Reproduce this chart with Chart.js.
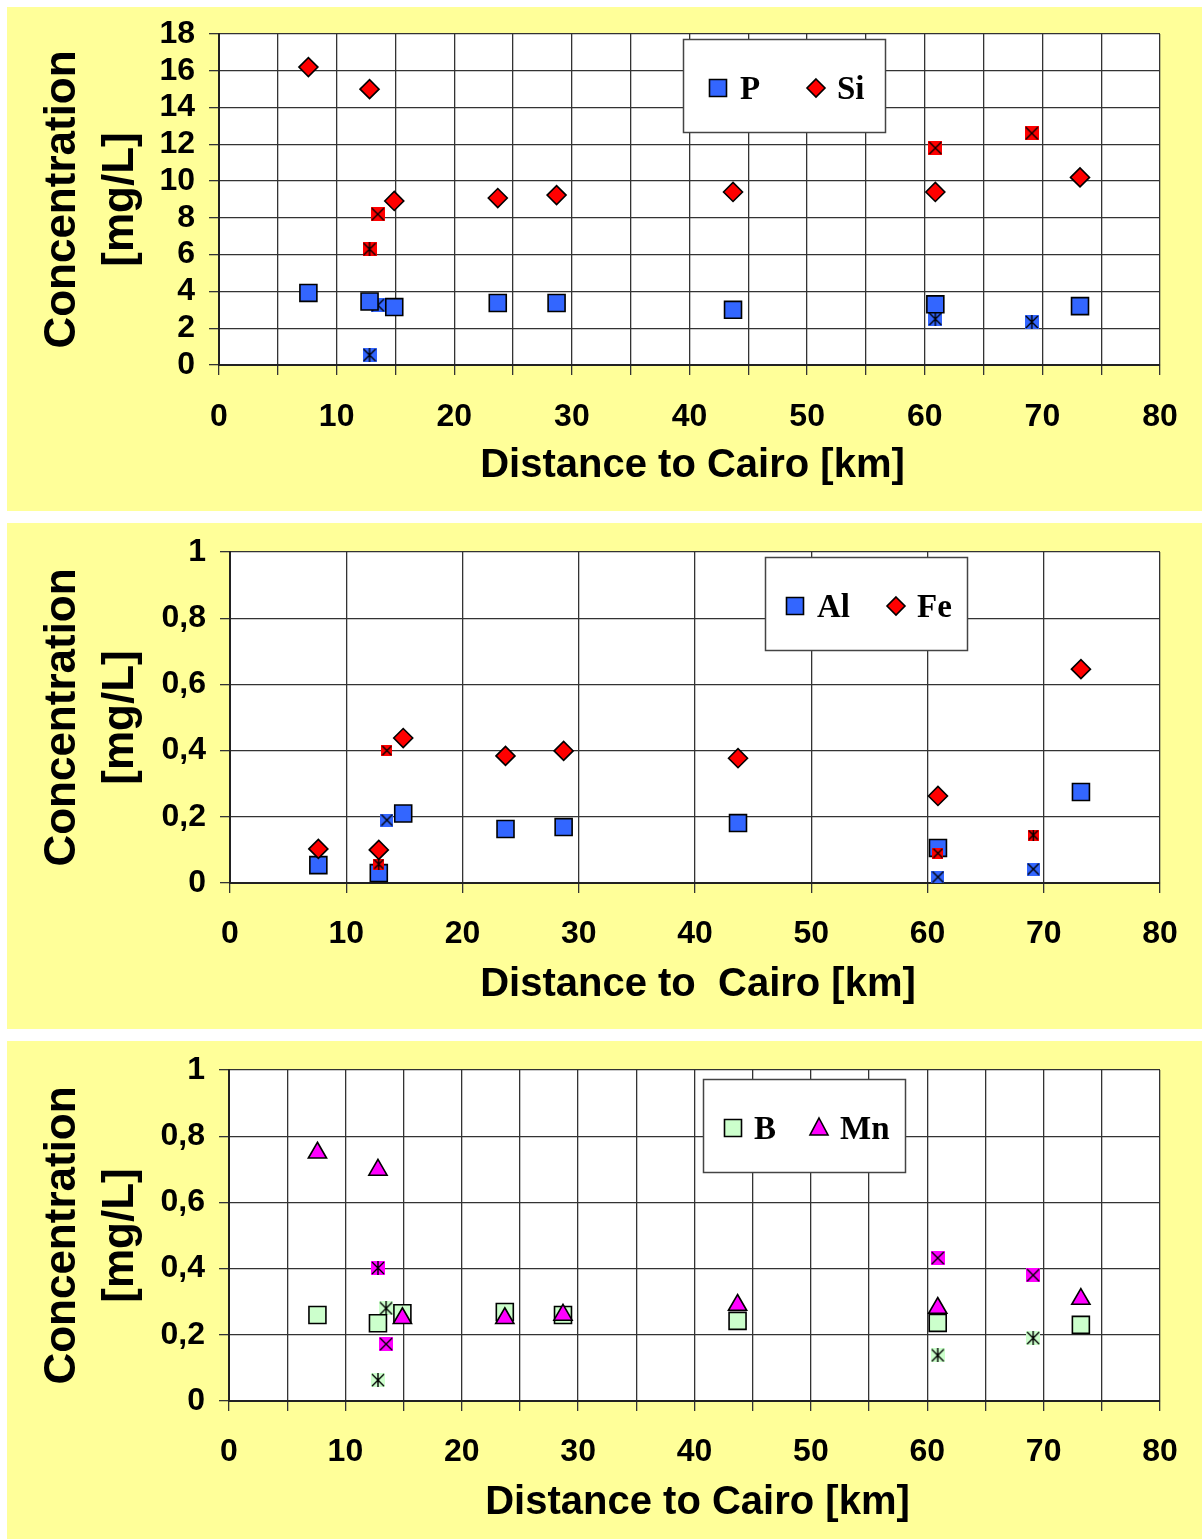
<!DOCTYPE html>
<html>
<head>
<meta charset="utf-8">
<script src="https://cdn.jsdelivr.net/npm/chart.js@4.4.1/dist/chart.umd.min.js"></script>
<style>
  html, body { margin: 0; padding: 0; background: #ffffff; }
  body { width: 1202px; height: 1539px; position: relative; overflow: hidden; }
  .panel { position: absolute; left: 7px; background: #FFFF99; }
  canvas { display: block; }
</style>
</head>
<body>
<div class="panel" style="top:7px;width:1195px;height:504px"><canvas id="c1" width="1195" height="504"></canvas></div>
<div class="panel" style="top:523px;width:1195px;height:506px"><canvas id="c2" width="1195" height="506"></canvas></div>
<div class="panel" style="top:1041px;width:1195px;height:498px"><canvas id="c3" width="1195" height="498"></canvas></div>
<script>
// ---------------- DATA ----------------
// distance to Cairo [km] of the main sampling points
const distanceKm = [7.6, 12.8, 14.9, 23.7, 28.7, 43.7, 60.9, 73.2];
// distance of the additional samples (cross / asterisk markers)
const extraDistanceKm = [12.8, 13.5, 60.9, 69.1];

// main series [mg/L]
const P  = [3.92, 3.45, 3.15, 3.37, 3.37, 3.0, 3.3, 3.2];
const Si = [16.2, 15.0, 8.92, 9.08, 9.24, 9.41, 9.41, 10.2];
const Al = [0.054, 0.03, 0.21, 0.163, 0.169, 0.181, 0.106, 0.275];
const Fe = [0.103, 0.1, 0.438, 0.384, 0.399, 0.377, 0.263, 0.646];
const B  = [0.26, 0.235, 0.265, 0.269, 0.26, 0.242, 0.236, 0.23];
const Mn = [0.75, 0.698, 0.25, 0.25, 0.26, 0.29, 0.281, 0.308];

// additional samples [mg/L]
const PExtra  = [0.54, 3.25, 2.5, 2.34];
const SiExtra = [6.3, 8.2, 11.8, 12.6];
const AlExtra = [null, 0.19, 0.018, 0.042];
const FeExtra = [0.057, 0.4, 0.09, 0.145];
const BExtra  = [0.063, 0.28, 0.138, 0.19];
const MnExtra = [0.402, 0.172, 0.432, 0.38];

// tick labels
const xTickLabels = ['0', '10', '20', '30', '40', '50', '60', '70', '80'];
const yTickLabels1 = ['0', '2', '4', '6', '8', '10', '12', '14', '16', '18'];
const yTickLabels23 = ['0', '0,2', '0,4', '0,6', '0,8', '1'];

// ---------------- STYLE ----------------
const BLUE = '#3366FF', RED = '#FF0000', GREEN = '#CCFFCC', MAGENTA = '#FF00FF';
const SANS = '"Liberation Sans", Arial, sans-serif';
const SERIF = '"Liberation Serif", "Times New Roman", serif';

function markerImage(fill, size, star) {
  const c = document.createElement('canvas');
  c.width = size; c.height = size;
  const g = c.getContext('2d');
  g.fillStyle = fill;
  g.fillRect(0, 0, size, size);
  g.strokeStyle = '#000';
  g.lineWidth = 1.4;
  g.beginPath();
  g.moveTo(1, 1); g.lineTo(size - 1, size - 1);
  g.moveTo(size - 1, 1); g.lineTo(1, size - 1);
  if (star) { g.moveTo(size / 2, 0); g.lineTo(size / 2, size); }
  g.stroke();
  return c;
}
// marker kind of each additional sample, per element ('x' cross or '*' asterisk)
const extraKinds = {
  P:  ['*', 'x', '*', '*'],
  Si: ['*', 'x', 'x', 'x'],
  Al: ['x', 'x', 'x', 'x'],
  Fe: ['*', 'x', 'x', '*'],
  B:  ['*', '*', '*', '*'],
  Mn: ['*', 'x', 'x', 'x']
};
function pts(xs, ys) {
  return xs.map((x, i) => ({ x: x, y: ys[i] })).filter(p => p.y !== null);
}
function extraDataset(name, ys, fill, size) {
  const kinds = extraKinds[name];
  const styles = [];
  const data = [];
  extraDistanceKm.forEach((x, i) => {
    if (ys[i] !== null) { data.push({ x: x, y: ys[i] }); styles.push(markerImage(fill, size, kinds[i] === '*')); }
  });
  return { label: name + ' extra', data: data, pointStyle: styles, pointRadius: size / 2, showLine: false };
}
function mainDataset(name, ys, fill, style, radius) {
  return {
    label: name, data: pts(distanceKm, ys), pointStyle: style, pointRadius: radius,
    backgroundColor: fill, pointBackgroundColor: fill, pointBorderColor: '#000', pointBorderWidth: 1.6,
    showLine: false
  };
}

const panelPlugin = {
  id: 'panelDecor',
  beforeDraw(chart, args, opts) {
    const a = chart.chartArea, ctx = chart.ctx;
    ctx.save();
    ctx.fillStyle = '#ffffff';
    ctx.fillRect(a.left, a.top, a.right - a.left, a.bottom - a.top);
    ctx.restore();
  },
  afterDraw(chart, args, opts) {
    const a = chart.chartArea, ctx = chart.ctx;
    ctx.save();
    ctx.fillStyle = '#000';
    // x title
    ctx.font = 'bold 40px ' + SANS;
    ctx.textAlign = 'center';
    ctx.textBaseline = 'middle';
    ctx.fillText(opts.xTitle, (a.left + a.right) / 2 + 3, opts.xTitleY);
    // y title (two lines)
    ctx.font = 'bold 44px ' + SANS;
    const cy = (a.top + a.bottom) / 2;
    ctx.save(); ctx.translate(56, cy); ctx.rotate(-Math.PI / 2);
    ctx.fillText('Concentration', 0, 0); ctx.restore();
    ctx.save(); ctx.translate(114, cy); ctx.rotate(-Math.PI / 2);
    ctx.fillText('[mg/L]', 0, 0); ctx.restore();
    // legend box
    const L = opts.legend;
    ctx.fillStyle = '#ffffff';
    ctx.fillRect(L.x, L.y, 202, 93);
    ctx.strokeStyle = '#444';
    ctx.lineWidth = 1.5;
    ctx.strokeRect(L.x + 0.5, L.y + 0.5, 202, 93);
    const my = L.y + 49;
    L.items.forEach((it, k) => {
      const mx = L.x + L.offsets[k * 2];
      const tx = L.x + L.offsets[k * 2 + 1];
      ctx.fillStyle = it.fill;
      ctx.strokeStyle = '#000';
      ctx.lineWidth = 1.6;
      ctx.beginPath();
      if (it.shape === 'rect') {
        ctx.rect(mx - 8.5, my - 8.5, 17, 17);
      } else if (it.shape === 'diamond') {
        ctx.moveTo(mx, my - 9); ctx.lineTo(mx + 9, my); ctx.lineTo(mx, my + 9); ctx.lineTo(mx - 9, my); ctx.closePath();
      } else {
        ctx.moveTo(mx, my - 10); ctx.lineTo(mx + 9, my + 7); ctx.lineTo(mx - 9, my + 7); ctx.closePath();
      }
      ctx.fill(); ctx.stroke();
      ctx.fillStyle = '#000';
      ctx.font = 'bold 33px ' + SERIF;
      ctx.textAlign = 'left';
      ctx.textBaseline = 'middle';
      ctx.fillText(it.label, tx, my + 2);
    });
    ctx.restore();
  }
};

function makeChart(id, cfg) {
  const grid = { color: '#333', lineWidth: 1.3, tickLength: 10, drawTicks: true };
  const border = { display: true, color: '#222', width: 2 };
  return new Chart(document.getElementById(id), {
    type: 'scatter',
    // Chart.js draws dataset 0 last (on top), so reverse the painter's order
    data: { datasets: cfg.datasets.slice().reverse() },
    options: {
      responsive: false,
      animation: false,
      events: [],
      layout: { padding: { left: 0, right: 42, top: cfg.top, bottom: 0 } },
      plugins: {
        legend: { display: false },
        tooltip: { enabled: false },
        panelDecor: { xTitle: cfg.xTitle, xTitleY: cfg.xTitleY, legend: cfg.legend }
      },
      scales: {
        x: {
          type: 'linear', min: 0, max: 80,
          grid: grid, border: border,
          ticks: {
            stepSize: cfg.xStep, autoSkip: false, maxRotation: 0, padding: cfg.xPad, color: '#000',
            font: { family: SANS, size: 32, weight: 'bold' },
            callback: v => (v % 10 === 0 ? xTickLabels[v / 10] : '')
          },
          afterFit: s => { s.height = cfg.bottom; }
        },
        y: {
          type: 'linear', min: 0, max: cfg.yMax,
          grid: grid, border: border,
          ticks: {
            stepSize: cfg.yStep, autoSkip: false, padding: 14, color: '#000',
            font: { family: SANS, size: 32, weight: 'bold', lineHeight: 0.5 },
            callback: (v) => cfg.yLabels[Math.round(v / cfg.yStep)]
          },
          afterFit: s => { s.width = cfg.left; }
        }
      }
    },
    plugins: [panelPlugin]
  });
}

makeChart('c1', {
  datasets: [
    extraDataset('P', PExtra, BLUE, 14),
    mainDataset('P', P, BLUE, 'rect', 12),
    extraDataset('Si', SiExtra, RED, 14),
    mainDataset('Si', Si, RED, 'rectRot', 9.5)
  ],
  top: 27, bottom: 146, left: 212, xStep: 5, xPad: 23, yMax: 18, yStep: 2, yLabels: yTickLabels1,
  xTitle: 'Distance to Cairo [km]', xTitleY: 459,
  legend: { x: 676, y: 32, offsets: [35, 57, 133, 154],
            items: [{ label: 'P', fill: BLUE, shape: 'rect' }, { label: 'Si', fill: RED, shape: 'diamond' }] }
});

makeChart('c2', {
  datasets: [
    extraDataset('Al', AlExtra, BLUE, 13),
    mainDataset('Al', Al, BLUE, 'rect', 12),
    extraDataset('Fe', FeExtra, RED, 11),
    mainDataset('Fe', Fe, RED, 'rectRot', 9.5)
  ],
  top: 29, bottom: 146, left: 223, xStep: 10, xPad: 22, yMax: 1, yStep: 0.2, yLabels: yTickLabels23,
  xTitle: 'Distance to  Cairo [km]', xTitleY: 462,
  legend: { x: 758, y: 34, offsets: [30, 52, 131, 152],
            items: [{ label: 'Al', fill: BLUE, shape: 'rect' }, { label: 'Fe', fill: RED, shape: 'diamond' }] }
});

makeChart('c3', {
  datasets: [
    extraDataset('B', BExtra, GREEN, 14),
    mainDataset('B', B, GREEN, 'rect', 12),
    extraDataset('Mn', MnExtra, MAGENTA, 14),
    mainDataset('Mn', Mn, MAGENTA, 'triangle', 10.5)
  ],
  top: 29, bottom: 138, left: 222, xStep: 5, xPad: 22, yMax: 1, yStep: 0.2, yLabels: yTickLabels23,
  xTitle: 'Distance to Cairo [km]', xTitleY: 462,
  legend: { x: 696, y: 38, offsets: [30, 51, 116, 137],
            items: [{ label: 'B', fill: GREEN, shape: 'rect' }, { label: 'Mn', fill: MAGENTA, shape: 'triangle' }] }
});
</script>
</body>
</html>
